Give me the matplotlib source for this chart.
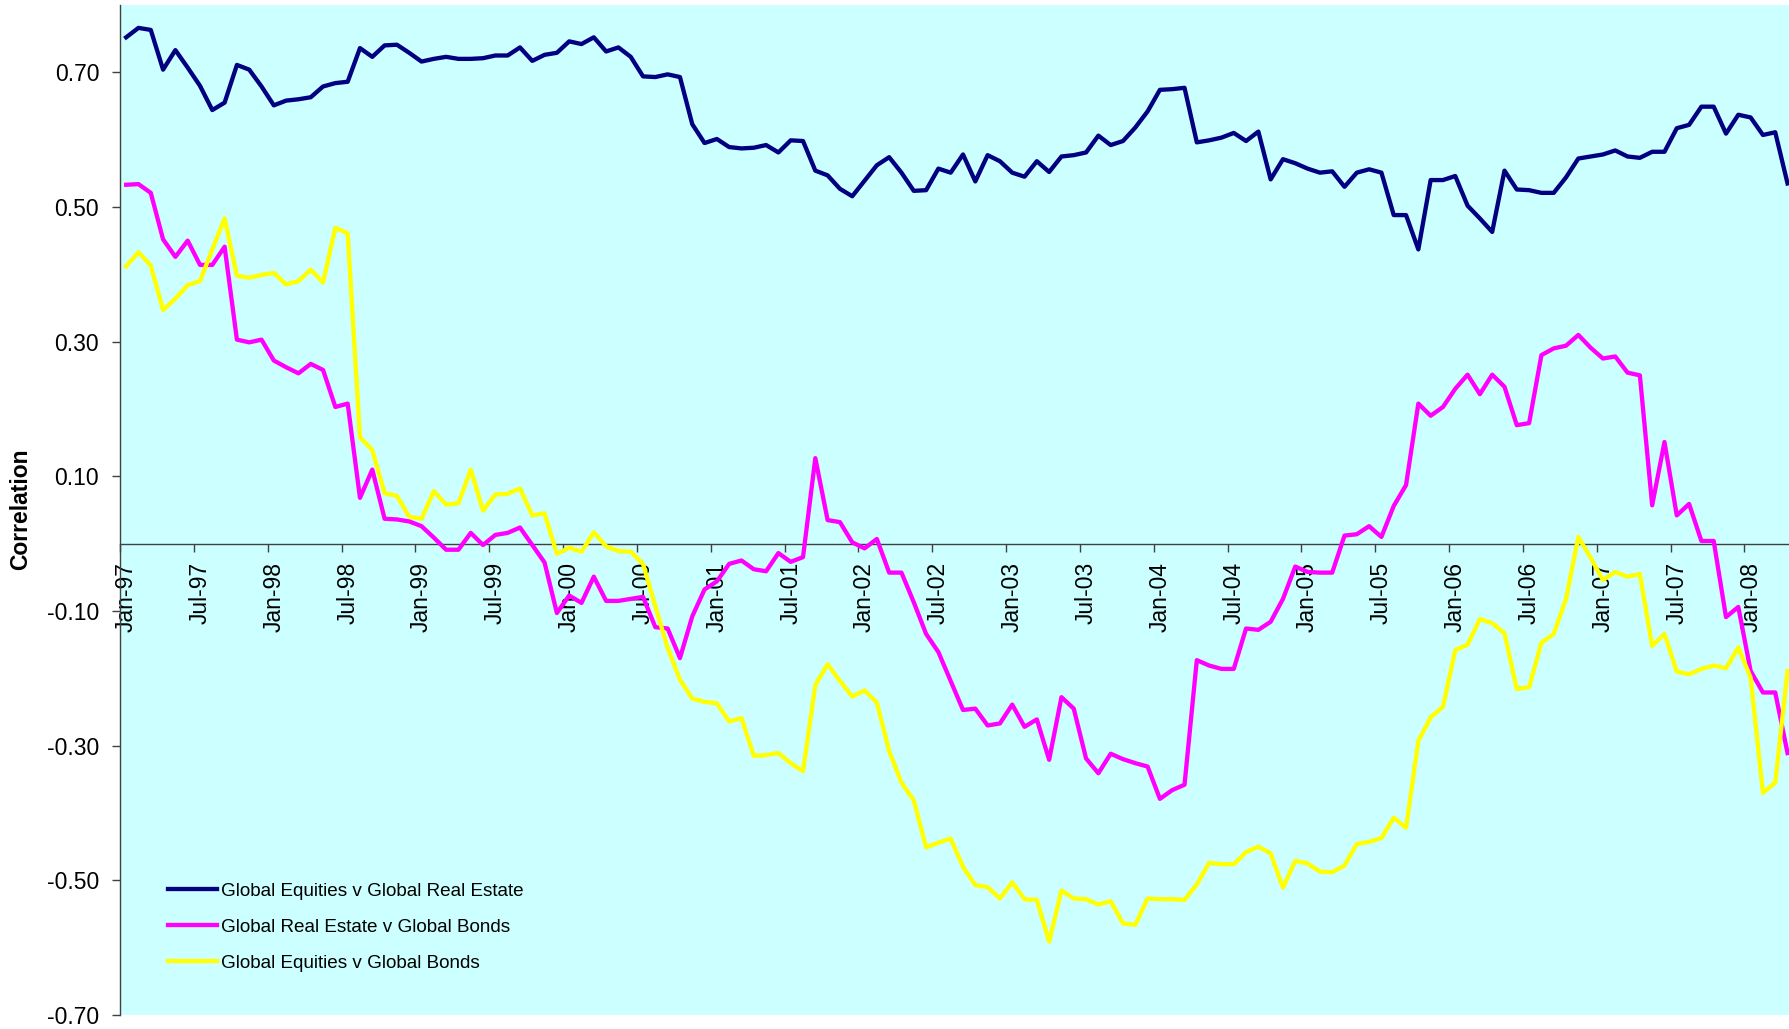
import matplotlib
matplotlib.use('Agg')
import matplotlib.pyplot as plt
import numpy as np
from matplotlib.ticker import FixedLocator, FixedFormatter

plt.rcParams['font.family'] = ['Liberation Sans', 'DejaVu Sans']

tick_labels = ['Jan-97', 'Jul-97', 'Jan-98', 'Jul-98', 'Jan-99', 'Jul-99', 'Jan-00', 'Jul-00',
               'Jan-01', 'Jul-01', 'Jan-02', 'Jul-02', 'Jan-03', 'Jul-03', 'Jan-04', 'Jul-04',
               'Jan-05', 'Jul-05', 'Jan-06', 'Jul-06', 'Jan-07', 'Jul-07', 'Jan-08']

series_names = ['Global Equities v Global Real Estate',
                'Global Real Estate v Global Bonds',
                'Global Equities v Global Bonds']

eq_re = [0.752, 0.766, 0.763, 0.704, 0.733, 0.707, 0.680, 0.644, 0.655, 0.711,
         0.704, 0.679, 0.651, 0.658, 0.660, 0.663, 0.679, 0.684, 0.686, 0.736,
         0.723, 0.740, 0.741, 0.729, 0.716, 0.720, 0.723, 0.720, 0.720, 0.721,
         0.725, 0.725, 0.737, 0.717, 0.726, 0.729, 0.746, 0.742, 0.752, 0.731,
         0.737, 0.723, 0.694, 0.693, 0.697, 0.693, 0.623, 0.595, 0.601, 0.589,
         0.587, 0.588, 0.592, 0.581, 0.599, 0.598, 0.554, 0.547, 0.527, 0.516,
         0.539, 0.562, 0.574, 0.551, 0.524, 0.525, 0.557, 0.551, 0.578, 0.538,
         0.577, 0.568, 0.551, 0.545, 0.568, 0.552, 0.575, 0.577, 0.581, 0.606,
         0.592, 0.598, 0.618, 0.642, 0.674, 0.675, 0.677, 0.596, 0.599, 0.603,
         0.610, 0.598, 0.612, 0.541, 0.571, 0.565, 0.557, 0.551, 0.553, 0.530,
         0.551, 0.556, 0.551, 0.488, 0.488, 0.437, 0.540, 0.540, 0.546, 0.502,
         0.483, 0.463, 0.554, 0.526, 0.525, 0.521, 0.521, 0.544, 0.572, 0.575,
         0.578, 0.584, 0.575, 0.573, 0.582, 0.582, 0.617, 0.622, 0.649, 0.649,
         0.609, 0.637, 0.633, 0.607, 0.611, 0.535]

re_bd = [0.533, 0.534, 0.521, 0.452, 0.426, 0.450, 0.414, 0.414, 0.441, 0.303,
         0.299, 0.303, 0.272, 0.262, 0.253, 0.267, 0.258, 0.203, 0.208, 0.068,
         0.110, 0.037, 0.036, 0.033, 0.026, 0.009, -0.009, -0.009, 0.016, -0.002,
         0.013, 0.016, 0.024, -0.002, -0.028, -0.103, -0.077, -0.088, -0.049, -0.085,
         -0.085, -0.082, -0.079, -0.124, -0.126, -0.170, -0.108, -0.068, -0.056, -0.030,
         -0.025, -0.038, -0.041, -0.014, -0.027, -0.020, 0.127, 0.035, 0.032, 0.002,
         -0.007, 0.007, -0.043, -0.043, -0.087, -0.134, -0.161, -0.204, -0.247, -0.245,
         -0.270, -0.267, -0.239, -0.272, -0.261, -0.321, -0.228, -0.245, -0.319, -0.341,
         -0.312, -0.320, -0.326, -0.331, -0.379, -0.366, -0.358, -0.173, -0.181, -0.186,
         -0.186, -0.126, -0.128, -0.116, -0.082, -0.034, -0.042, -0.043, -0.043, 0.012,
         0.014, 0.026, 0.010, 0.056, 0.087, 0.208, 0.190, 0.203, 0.230, 0.251,
         0.222, 0.251, 0.233, 0.176, 0.179, 0.280, 0.290, 0.294, 0.310, 0.291,
         0.275, 0.278, 0.254, 0.250, 0.057, 0.151, 0.042, 0.059, 0.004, 0.004,
         -0.109, -0.094, -0.189, -0.221, -0.221, -0.311]

eq_bd = [0.412, 0.433, 0.413, 0.347, 0.364, 0.384, 0.390, 0.437, 0.483, 0.398,
         0.395, 0.399, 0.402, 0.385, 0.390, 0.407, 0.388, 0.469, 0.461, 0.158,
         0.139, 0.075, 0.071, 0.040, 0.037, 0.078, 0.058, 0.060, 0.110, 0.049,
         0.073, 0.074, 0.082, 0.042, 0.045, -0.015, -0.006, -0.012, 0.017, -0.004,
         -0.011, -0.012, -0.030, -0.093, -0.155, -0.202, -0.230, -0.235, -0.237, -0.264,
         -0.259, -0.315, -0.314, -0.311, -0.326, -0.338, -0.210, -0.179, -0.204, -0.227,
         -0.218, -0.236, -0.308, -0.355, -0.381, -0.451, -0.444, -0.438, -0.480, -0.507,
         -0.510, -0.527, -0.503, -0.528, -0.529, -0.591, -0.515, -0.527, -0.528, -0.536,
         -0.531, -0.564, -0.566, -0.527, -0.528, -0.528, -0.529, -0.506, -0.474, -0.476,
         -0.476, -0.458, -0.450, -0.460, -0.511, -0.471, -0.475, -0.487, -0.488, -0.478,
         -0.446, -0.443, -0.437, -0.407, -0.422, -0.293, -0.258, -0.242, -0.158, -0.150,
         -0.112, -0.118, -0.133, -0.216, -0.213, -0.147, -0.134, -0.082, 0.010, -0.021,
         -0.054, -0.042, -0.049, -0.045, -0.152, -0.134, -0.190, -0.194, -0.186, -0.181,
         -0.185, -0.154, -0.199, -0.370, -0.355, -0.189]

y_ticks = [-0.70, -0.50, -0.30, -0.10, 0.10, 0.30, 0.50, 0.70]

W, H = 1790, 1029
fig = plt.figure(figsize=(W / 100, H / 100), dpi=100)
fig.patch.set_facecolor('white')

left_px, top_px, bottom_px = 120, 5, 1015
ax = fig.add_axes([left_px / W, 1 - bottom_px / H, 1 - left_px / W, (bottom_px - top_px) / H])
ax.set_facecolor('#CCFFFF')

x = np.arange(len(eq_re))
lw = 3.1
ax.plot(x, eq_re, color='#000080', lw=lw, label=series_names[0], zorder=3)
ax.plot(x, re_bd, color='#FF00FF', lw=lw, label=series_names[1], zorder=3)
ax.plot(x, eq_bd, color='#FFFF00', lw=lw, label=series_names[2], zorder=3)

ax.set_xlim(-0.5, 135.2)
ax.set_ylim(-0.70, 0.80)

for s in ['top', 'right']:
    ax.spines[s].set_visible(False)
ax.spines['bottom'].set_position(('data', 0))
ax.spines['bottom'].set_color('#404040')
ax.spines['bottom'].set_linewidth(1.0)
ax.spines['left'].set_color('#404040')
ax.spines['left'].set_linewidth(1.0)

# y axis
ax.set_yticks(y_ticks)
ax.set_yticklabels([f"{v:.2f}" for v in y_ticks])
ax.tick_params(axis='y', direction='out', length=6, width=1, color='#404040',
               labelsize=16.5, pad=9)

# x axis: labels centered on categories, tick marks at category boundaries
label_pos = [6 * k for k in range(len(tick_labels))]
ax.xaxis.set_major_locator(FixedLocator(label_pos))
ax.xaxis.set_major_formatter(FixedFormatter(tick_labels))
ax.xaxis.set_minor_locator(FixedLocator([p - 0.5 for p in label_pos]))
ax.tick_params(axis='x', which='major', length=0, labelsize=16.5, pad=13, labelrotation=90)
ax.tick_params(axis='x', which='minor', direction='out', length=6, width=1, color='#404040')

fig.text(20.5 / W, 1 - 509 / H, 'Correlation', rotation=90, ha='center', va='center',
         fontsize=16.5, fontweight='bold')

leg = ax.legend(loc='center left', bbox_to_anchor=(0.0285, 0.0871), frameon=False,
                fontsize=13.6, handlelength=2.6, handletextpad=0.25, labelspacing=1.0,
                borderpad=0, borderaxespad=0)

fig.savefig('out.png', dpi=100)
